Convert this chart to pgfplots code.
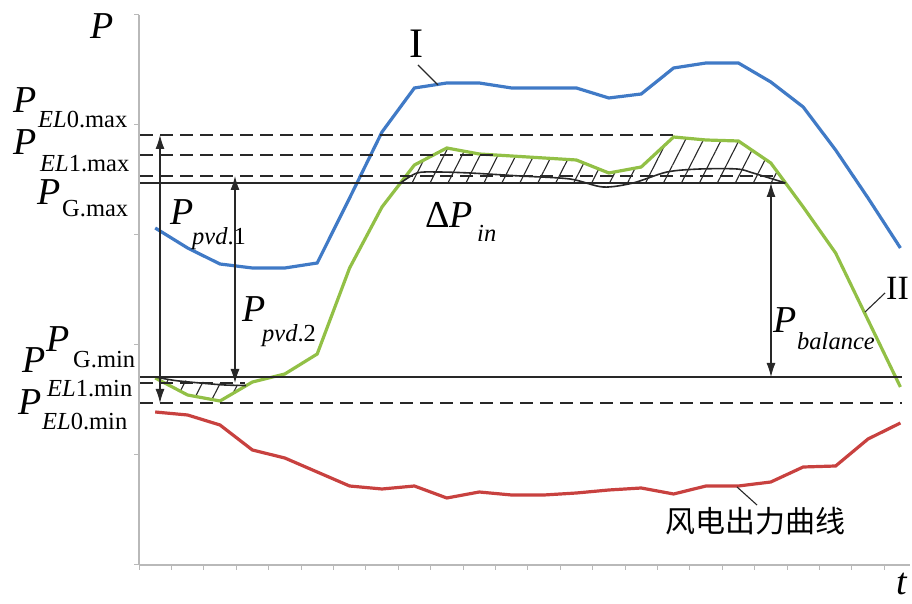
\documentclass[border=0pt]{standalone}
\usepackage{fontspec}
\setmainfont{Liberation Serif}
\newfontfamily\cjk{Noto Sans CJK SC}
\usepackage{pgfplots}
\usepackage{pgfplotstable}
\pgfplotsset{compat=1.18}
\usepgfplotslibrary{fillbetween}
\usetikzlibrary{patterns.meta,arrows.meta}

\definecolor{cblue}{RGB}{64,122,198}
\definecolor{cgreen}{RGB}{146,192,70}
\definecolor{cred}{RGB}{200,65,63}
\definecolor{caxis}{RGB}{185,185,185}
\definecolor{cline}{RGB}{40,40,40}

\newcommand\PP{\fontsize{38}{40}\selectfont\itshape P}
\newcommand\sub[1]{\fontsize{24.5}{26}\selectfont #1}
\tikzset{arr/.style={cline, line width=1.1pt, {Latex[length=14pt,width=9pt]}-{Latex[length=14pt,width=9pt]}}}

\pgfplotstableread{
x      blue green red
155.2  376  226   192
187.6  356  209   189
220.0  340  203   179
252.4  336  222   154
284.8  336  230   146
317.2  341  250   132
349.6  406  336   118
382.0  472  397   115
414.4  516  439   118
446.8  521  456   106
479.2  521  450   112
511.6  516  448   109
544.0  516  446   109
576.4  516  444   111
608.8  506  431   114
641.2  510  437   116
673.6  536  467   110
706.0  541  464   118
738.4  541  463   118
770.8  522  441   122
803.2  497  397   137
835.6  454  351   138
868.0  406  284   165
900.4  356  217   181
}\curves

\begin{document}
\begin{tikzpicture}
\begin{axis}[
  set layers,
  scale only axis, width=771pt, height=550pt,
  xmin=139, xmax=910, ymin=39, ymax=589,
  axis x line=bottom, axis y line=left,
  axis line style={caxis, line width=1.5pt, -},
  xtick={139,171.4,...,890}, ytick={39,149,259,369,479,589},
  xticklabels={}, yticklabels={},
  tick align=outside, major tick length=5pt,
  tick style={caxis, line width=1pt},
  clip=false,
]
% curves
\addplot[cblue, line width=3.2pt] table[x=x,y=blue]{\curves};
\addplot[cgreen, line width=3.2pt, name path=green] table[x=x,y=green]{\curves};
\addplot[cred, line width=3.2pt] table[x=x,y=red]{\curves};

% inner black curves
\addplot[cline, line width=1.6pt, smooth, name path=blkU] coordinates {(400.5,421)(417,431)(437,432)(470,431)(520,428)(570,425)(603,417)(633,421)(667,432)(700,435)(737,435)(753,431)(785.5,421)};
\addplot[cline, line width=1.6pt, smooth, name path=blkL] coordinates {(155.2,227)(175,223.5)(200,221)(225,219)(246,218.5)};

\addplot[pattern={Lines[angle=63,distance=16pt,line width=1.1pt]}, pattern color=cline, draw=none] fill between[of=green and blkU, soft clip={domain=400.5:785.5}];
\addplot[pattern={Lines[angle=63,distance=16pt,line width=1.1pt]}, pattern color=cline, draw=none] fill between[of=green and blkL, soft clip={domain=155.2:246}];

% horizontal levels
\addplot[cline, line width=1.4pt, dash pattern=on 13pt off 7pt] coordinates {(140,469)(673,469)};
\addplot[cline, line width=1.4pt, dash pattern=on 13pt off 7pt] coordinates {(140,449)(500,449)};
\addplot[cline, line width=1.4pt, dash pattern=on 13pt off 7pt] coordinates {(140,428)(777,428)};
\addplot[cline, line width=1.7pt] coordinates {(140,421)(785,421)};
\addplot[cline, line width=1.7pt] coordinates {(140,227)(902,227)};
\addplot[cline, line width=1.4pt, dash pattern=on 13pt off 7pt] coordinates {(140,221)(245,221)};
\addplot[cline, line width=1.4pt, dash pattern=on 13pt off 7pt] coordinates {(140,201)(902,201)};

% arrows
\addplot[arr] coordinates {(160,469)(160,201)};
\addplot[arr] coordinates {(235,428)(235,221)};
\addplot[arr] coordinates {(771,421)(771,227)};

% leader lines
\addplot[cline, line width=1.1pt] coordinates {(418,539)(438,519)};
\addplot[cline, line width=1.1pt] coordinates {(865,292)(885,311)};
\addplot[cline, line width=1.1pt] coordinates {(737,117)(757,99)};

% labels
\node[anchor=base west, inner sep=0] at (axis cs:90,565) {\PP};
\node[anchor=base west, inner sep=0] at (axis cs:13,491) {\PP};
\node[anchor=base west, inner sep=0] at (axis cs:38,476) {\sub{\textit{EL}0.max}};
\node[anchor=base west, inner sep=0] at (axis cs:13,449) {\PP};
\node[anchor=base west, inner sep=0] at (axis cs:40,432) {\sub{\textit{EL}1.max}};
\node[anchor=base west, inner sep=0] at (axis cs:37,399) {\PP};
\node[anchor=base west, inner sep=0] at (axis cs:62,387) {\sub{G.max}};
\node[anchor=base west, inner sep=0] at (axis cs:170,379) {\PP};
\node[anchor=base west, inner sep=0] at (axis cs:192,359) {\sub{\textit{pvd}.1}};
\node[anchor=base west, inner sep=0] at (axis cs:425,376) {\fontsize{38}{40}\selectfont Δ\textit{P}};
\node[anchor=base west, inner sep=0] at (axis cs:477,362) {\sub{\textit{in}}};
\node[anchor=base west, inner sep=0] at (axis cs:242,282) {\PP};
\node[anchor=base west, inner sep=0] at (axis cs:262,262) {\sub{\textit{pvd}.2}};
\node[anchor=base west, inner sep=0] at (axis cs:773,271) {\PP};
\node[anchor=base west, inner sep=0] at (axis cs:797,254) {\sub{\textit{balance}}};
\node[anchor=base west, inner sep=0] at (axis cs:46,252) {\PP};
\node[anchor=base west, inner sep=0] at (axis cs:73,236) {\sub{G.min}};
\node[anchor=base west, inner sep=0] at (axis cs:22,231) {\PP};
\node[anchor=base west, inner sep=0] at (axis cs:47,207) {\sub{\textit{EL}1.min}};
\node[anchor=base west, inner sep=0] at (axis cs:18,189) {\PP};
\node[anchor=base west, inner sep=0] at (axis cs:42,174) {\sub{\textit{EL}0.min}};
\node[anchor=base, inner sep=0] at (axis cs:416,546) {\fontsize{42}{44}\selectfont I};
\node[anchor=base west, inner sep=0] at (axis cs:886,304) {\fontsize{34}{36}\selectfont II};
\node[anchor=base west, inner sep=0] at (axis cs:896,9) {\fontsize{38}{40}\selectfont\itshape t};
\node[anchor=center, inner sep=0] at (axis cs:755,83) {\cjk\fontsize{30}{32}\selectfont 风电出力曲线};

\coordinate (BL) at (axis cs:0,0);
\coordinate (TR) at (axis cs:912,604);
\end{axis}
\pgfresetboundingbox
\path[use as bounding box] (BL) rectangle (TR);
\end{tikzpicture}
\end{document}
